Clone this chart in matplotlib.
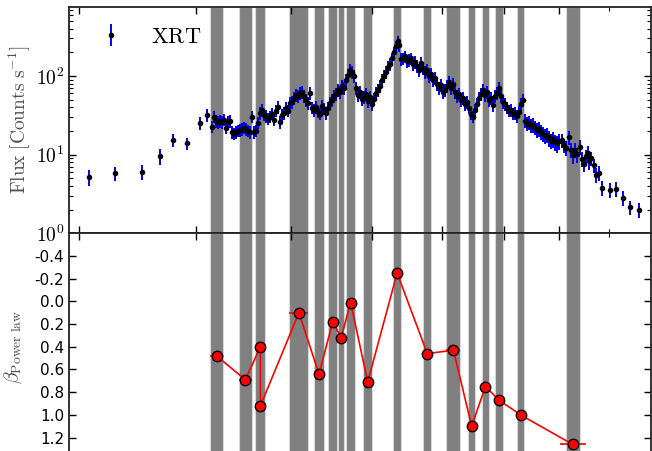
import math
import matplotlib
matplotlib.use("Agg")
import matplotlib.pyplot as plt
from matplotlib.ticker import FixedLocator, FuncFormatter, NullFormatter, LogLocator

plt.rcParams['mathtext.fontset'] = 'cm'
plt.rcParams['font.family'] = 'DejaVu Sans'

# XRT light curve: time since trigger (s), flux (counts/s), 1-sigma error
xrt_time = [407.9, 428.3, 451.4, 467.1, 478.6, 491.6, 504.2, 510.8,
            515.9, 517.9, 519.9, 521.9, 523.9, 525.9, 528.0, 530.0, 532.0, 534.0, 536.1, 538.1, 540.2, 542.3, 544.3, 546.4,
            548.5, 550.6, 552.6, 554.8, 556.9, 559.0, 561.2, 563.3, 565.5, 567.7, 569.8, 572.0, 574.2, 576.4, 578.6, 580.8,
            583.0, 585.2, 587.4, 589.7, 591.9, 594.2, 596.5, 598.7, 601.0, 603.3, 605.6, 607.9, 610.3, 612.6, 615.0, 617.3,
            619.7, 622.1, 624.5, 626.8, 629.2, 631.6, 634.0, 636.4, 638.9, 641.3, 643.8, 646.2, 648.7, 651.2, 653.7, 656.1,
            658.7, 661.2, 663.7, 666.2, 668.8, 671.4, 674.0, 676.5, 679.1, 681.7, 684.3, 686.9, 689.5, 692.2, 694.8, 697.4,
            700.1, 702.8, 705.4, 708.1, 710.9, 713.6, 716.3, 719.0, 721.8, 724.6, 727.4, 730.1, 732.9,
            735.0, 737.1, 739.9, 742.7, 745.6, 748.4, 751.3, 754.2, 757.0, 759.9, 762.8, 765.7, 768.6, 771.6, 774.5, 777.5,
            780.5, 783.5, 786.5, 789.5, 792.5, 795.5, 798.5, 801.6, 804.7, 807.7, 810.8, 813.9, 817.0, 820.2, 823.3, 826.4,
            829.6, 832.8, 836.0, 839.2, 842.3, 845.6, 848.8, 852.0, 855.3, 858.5, 861.8, 865.1, 868.4, 871.7, 875.0, 878.4,
            881.7, 885.1, 888.5, 891.9, 895.3, 898.7, 902.2, 905.6, 909.1, 912.6, 916.1, 919.6, 923.1, 926.6, 930.2, 933.7,
            937.3, 940.9, 944.4, 948.1, 951.7, 955.3, 959.0, 962.6, 966.3, 970.0, 973.7, 977.4, 981.1, 984.9, 988.6, 992.4,
            996.2, 1000.0,
            1005.2, 1009.1, 1014.1, 1019.3, 1023.8, 1026.5, 1031.6, 1035.6, 1041.5, 1045.5, 1048.9, 1052.9, 1056.9, 1058.9,
            1063.6, 1068.5, 1073.1, 1079.3,
            1084.6, 1102.0, 1115.5, 1129.9, 1145.0, 1166.0]
xrt_flux = [5.2, 5.8, 6.0, 9.6, 15.3, 13.9, 25.5, 31.9,
            22.7, 30.4, 27.1, 26.3, 27.1, 26.3, 27.9, 22.1, 26.3, 27.1, 19.6, 18.5, 19.6, 20.2, 20.8, 21.4,
            22.1, 21.4, 20.2, 19.6, 30.4, 19.6, 20.2, 25.5, 34.1, 37.3, 32.2, 31.3, 28.7, 30.4, 33.2, 27.9,
            36.2, 40.6, 26.3, 32.2, 34.1, 39.5, 36.2, 45.7, 47.0, 52.8, 57.6, 55.9, 61.0, 62.8, 55.9, 49.8,
            45.7, 61.0, 39.5, 37.3, 40.6, 35.2, 33.2, 41.8, 38.4, 34.1, 39.5, 45.7, 49.8, 55.9, 59.3, 66.6,
            62.8, 74.8, 70.6, 89.0, 102.9, 119.0, 112.2, 99.9, 70.6, 57.6, 62.8, 51.3, 54.3, 59.3, 48.4, 54.3,
            44.4, 51.3, 61.0, 66.6, 74.8, 89.0, 99.9, 112.2, 129.8, 141.7, 168.6, 200.6, 239.0,
            277.0, 246.0, 163.9, 168.6, 178.7, 154.5, 159.1, 168.6, 141.7, 150.1, 133.6, 119.0, 145.9, 126.1, 112.2, 119.0,
            99.9, 106.0, 89.0, 94.3, 79.3, 70.6, 77.0, 62.8, 66.6, 74.8, 84.0, 70.6, 79.3, 62.8, 55.9, 59.3,
            49.8, 52.8, 44.4, 47.0, 39.5, 33.2, 30.4, 37.3, 44.4, 52.8, 59.3, 66.6, 57.6, 62.8, 49.8, 52.8,
            43.1, 55.9, 61.0, 70.6, 55.9, 47.0, 44.4, 39.5, 36.2, 37.3, 33.2, 34.1, 31.3, 35.2, 44.4, 49.8,
            27.1, 24.8, 25.5, 23.4, 24.1, 22.1, 20.8, 21.4, 19.6, 18.5, 17.5, 18.0, 16.1, 15.1, 15.6, 14.3,
            13.9, 14.7,
            15.3, 13.2, 12.3, 16.8, 11.5, 9.8, 11.5, 10.1, 12.5, 8.9, 7.7, 9.6, 10.6, 8.2,
            9.0, 7.35, 5.55, 5.9,
            3.81, 3.58, 3.70, 2.81, 2.16, 2.00]
xrt_err = [1.2, 1.2, 1.3, 2.2, 2.8, 2.6, 5.0, 6.0,
           4.0, 5.4, 5.0, 4.8, 5.0, 4.8, 5.0, 4.0, 4.8, 5.0, 3.6, 3.3, 3.6, 3.6, 3.8, 3.9,
           4.0, 3.9, 3.6, 3.6, 5.4, 3.6, 3.6, 4.6, 6.2, 6.8, 5.8, 5.7, 5.1, 5.4, 6.0, 5.0,
           6.5, 7.3, 4.8, 5.8, 6.2, 7.0, 6.5, 8.2, 8.4, 9.5, 10.4, 10.0, 11.0, 11.2, 10.0, 9.0,
           8.2, 11.0, 7.0, 6.8, 7.3, 6.3, 6.0, 7.5, 6.9, 6.2, 7.0, 8.2, 9.0, 10.0, 10.6, 12.0,
           11.2, 13.5, 12.8, 16.0, 18.4, 21.4, 20.2, 18.0, 12.8, 10.4, 11.2, 9.3, 9.8, 10.6, 8.7, 9.8,
           8.0, 9.3, 11.0, 12.0, 13.5, 16.0, 18.0, 20.2, 23.4, 25.5, 30.3, 36.2, 43.0,
           50.0, 44.0, 29.5, 30.3, 32.1, 27.8, 28.6, 30.3, 25.5, 27.0, 24.0, 21.4, 26.2, 22.6, 20.2, 21.4,
           18.0, 19.0, 16.0, 17.0, 14.2, 12.8, 13.8, 11.2, 12.0, 13.5, 15.2, 12.8, 14.2, 11.2, 10.0, 10.6,
           9.0, 9.5, 8.0, 8.4, 7.0, 6.0, 5.4, 6.8, 8.0, 9.5, 10.6, 12.0, 10.4, 11.2, 9.0, 9.5,
           7.8, 10.0, 11.0, 12.8, 10.0, 8.4, 8.0, 7.0, 6.5, 6.8, 6.0, 6.2, 5.7, 6.3, 8.0, 9.0,
           5.4, 5.0, 5.1, 4.8, 5.0, 4.5, 4.4, 4.5, 4.2, 4.0, 3.9, 4.0, 3.6, 3.4, 3.6, 3.3,
           3.3, 3.4,
           3.2, 2.8, 2.6, 3.4, 2.5, 2.2, 2.5, 2.2, 2.7, 1.9, 1.7, 2.0, 2.2, 1.8,
           1.9, 1.5, 1.2, 1.3,
           0.8, 0.75, 0.8, 0.6, 0.45, 0.42]

# time slices used for the spectral fits (s)
slice_start = [513.7, 542.6, 560.1, 597.9, 626.0, 643.8, 655.8, 666.2, 688.2, 728.3,
               772.1, 806.6, 840.6, 862.9, 885.1, 923.1, 1012.9]
slice_stop = [526.9, 556.6, 571.2, 619.7, 639.2, 654.9, 664.0, 677.8, 700.1, 740.3,
              783.5, 828.5, 852.4, 875.0, 898.7, 935.5, 1040.9]

# power-law spectral index per slice
beta_time = [520.3, 549.6, 565.7, 565.7, 608.8, 632.6, 649.4, 659.9, 672.0, 694.2,
             734.3, 777.8, 817.6, 846.5, 869.0, 891.9, 929.3, 1026.5]
beta_terr = [6.6, 7.0, 5.6, 5.6, 10.9, 6.6, 5.6, 4.1, 5.8, 6.0,
             6.0, 5.7, 11.0, 5.9, 6.1, 6.8, 6.2, 25.5]
beta = [0.48, 0.69, 0.40, 0.92, 0.10, 0.64, 0.18, 0.32, 0.01, 0.71,
        -0.25, 0.46, 0.43, 1.10, 0.75, 0.87, 1.00, 1.26]

fig = plt.figure(figsize=(6.52, 4.51), dpi=100)
ax1 = fig.add_axes([0.1058, 0.4827, 0.8934, 0.5024])
ax2 = fig.add_axes([0.1058, -0.0206, 0.8934, 0.5033], sharex=ax1)

for ax in (ax1, ax2):
    for s, e in zip(slice_start, slice_stop):
        ax.axvspan(s, e, fc='#808080', ec='#d8d8d8', lw=0.8, zorder=0)

ax1.errorbar(xrt_time, xrt_flux, yerr=xrt_err, fmt='o', ms=3, mfc='k', mec='k',
             ecolor='b', elinewidth=1.4, capsize=0, label=r'$\mathrm{XRT}$', zorder=3)
ax1.set_xscale('log')
ax1.set_yscale('log')
ax1.set_xlim(392.6, 1193.0)
ax1.set_ylim(1, 760)
ax1.yaxis.set_major_formatter(FuncFormatter(lambda v, p: r'$10^{%d}$' % round(math.log10(v))))
ax1.yaxis.set_minor_locator(LogLocator(subs=range(2, 10)))
ax1.yaxis.set_minor_formatter(NullFormatter())
ax1.set_ylabel(r'$\mathrm{Flux\ [Counts\ s^{-1}]}$', fontsize=14, color='#505050')
ax1.yaxis.set_label_coords(-0.062, 0.5)
ax1.legend(loc='upper left', frameon=False, numpoints=1, fontsize=16)

ax2.errorbar(beta_time, beta, xerr=beta_terr, fmt='-o', color='r', mfc='r', mec='k',
             ms=7.5, mew=1, lw=1.2, elinewidth=1.2, capsize=0, zorder=3)
ax2.set_ylim(1.4, -0.6)
ax2.set_yticks([-0.4, -0.2, 0.0, 0.2, 0.4, 0.6, 0.8, 1.0, 1.2])
ax2.set_yticklabels(['-0.4', '-0.2', '0.0', '0.2', '0.4', '0.6', '0.8', '1.0', '1.2'])
ax2.set_ylabel(r'$\beta_{\mathrm{Power\ law}}$', fontsize=14, color='#505050')
ax2.yaxis.set_label_coords(-0.078, 0.5)

for ax in (ax1, ax2):
    ax.xaxis.set_major_locator(FixedLocator([400, 500, 600, 700, 800, 900, 1000]))
    ax.xaxis.set_minor_locator(FixedLocator([1100]))
    ax.xaxis.set_major_formatter(NullFormatter())
    ax.xaxis.set_minor_formatter(NullFormatter())
    ax.tick_params(which='both', direction='in', top=True, right=True)
    ax.tick_params(which='major', length=5, width=1)
    ax.tick_params(which='minor', length=3, width=0.8)
    for sp in ax.spines.values():
        sp.set_linewidth(1.3)
        sp.set_color('#222222')

ax1.tick_params(axis='y', labelsize=14)
ax2.tick_params(axis='y', labelsize=11)

fig.savefig('out.png', dpi=100)
